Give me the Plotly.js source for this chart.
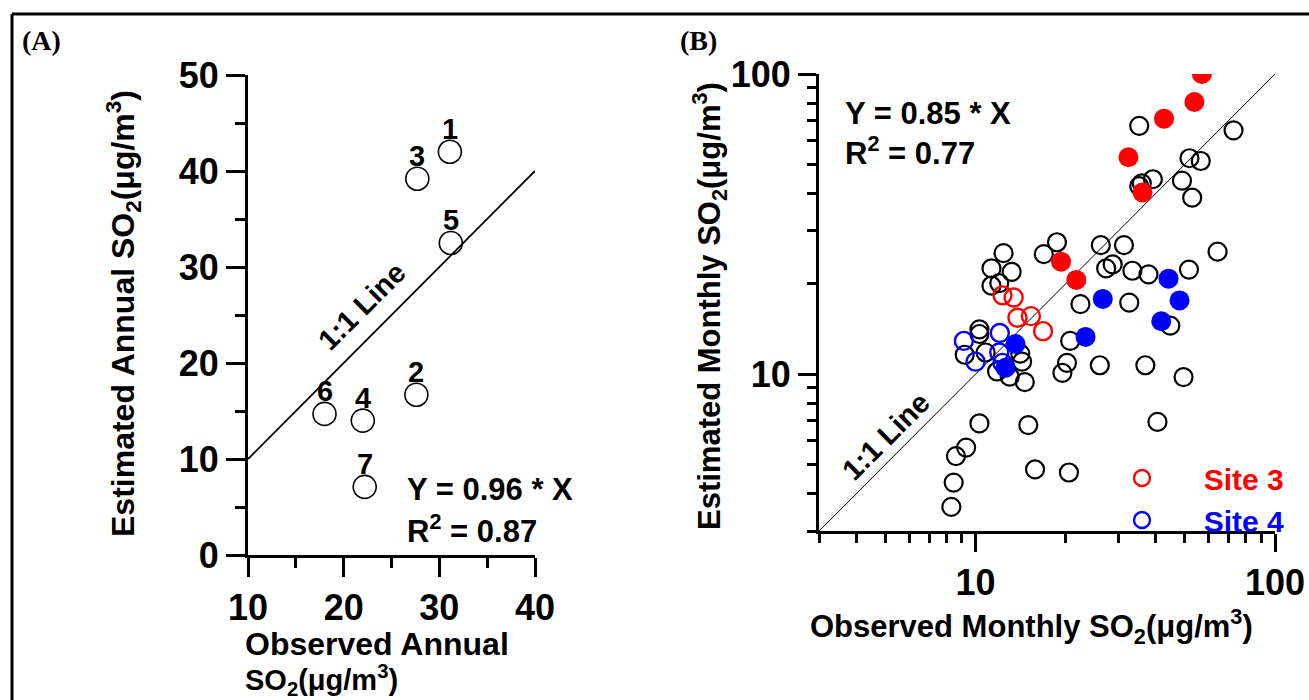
<!DOCTYPE html>
<html>
<head>
<meta charset="utf-8">
<script src="https://cdn.plot.ly/plotly-3.0.1.min.js"></script>
<style>html,body{margin:0;padding:0;background:#fff;}</style>
</head>
<body>
<div id="chart" style="width:1309px;height:700px;"></div>
<script>
// ---------- Panel A : annual ----------
const siteLabels = ['1','2','3','4','5','6','7'];
const obsAnnual  = [31.1, 27.6, 27.7, 22.0, 31.2, 18.0, 22.2];
const estAnnual  = [42.0, 16.7, 39.2, 14.0, 32.5, 14.7, 7.1];
const oneToOneA  = [10, 40];
const xTicksA = [10, 20, 30, 40];
const xMinorA = [15, 25, 35];
const yTicksA = [0, 10, 20, 30, 40, 50];
const yMinorA = [5, 15, 25, 35, 45];

// ---------- Panel B : monthly ----------
const otherObs = [35.2, 72.7, 51.8, 56.5, 35.9, 35.2, 39.1, 48.9, 52.9, 18.7,
                  26.2, 31.3, 16.9, 64.3, 12.4, 11.3, 13.2, 11.3, 12.0, 27.3,
                  28.7, 33.4, 37.8, 51.6, 22.4, 32.6, 44.7, 20.7, 20.2, 19.5,
                  26.0, 36.9, 49.5, 10.3, 10.3, 9.2, 10.8, 14.1, 14.3, 11.8,
                  13.0, 14.6, 10.3, 15.0, 9.3, 8.6, 8.45, 8.3, 15.8, 20.5, 40.5];
const otherEst = [67.2, 64.9, 52.4, 51.3, 43.2, 42.3, 44.6, 44.1, 38.7, 27.5,
                  26.9, 26.9, 25.1, 25.6, 25.3, 22.5, 21.9, 19.7, 20.1, 22.5,
                  23.2, 22.1, 21.5, 22.3, 17.1, 17.3, 14.5, 12.9, 10.9, 10.1,
                  10.7, 10.7, 9.77, 14.1, 13.6, 11.6, 11.8, 11.7, 11.0, 10.2,
                  9.8, 9.4, 6.85, 6.76, 5.69, 5.33, 4.35, 3.61, 4.81, 4.70, 6.93];
const site3OpenObs = [12.3, 13.4, 13.8, 15.3, 16.8];
const site3OpenEst = [18.3, 18.0, 15.4, 15.6, 13.9];
const site4OpenObs = [9.14, 12.05, 10.0, 12.0, 12.3];
const site4OpenEst = [12.9, 13.7, 11.0, 11.8, 10.9];
const site3FillObs = [57.0, 53.8, 42.6, 32.4, 36.1, 19.3, 21.7];
const site3FillEst = [100, 80.7, 71.0, 52.8, 40.3, 23.7, 20.6];
const site4FillObs = [44.1, 48.0, 26.6, 41.7, 23.3, 13.6, 12.6];
const site4FillEst = [20.8, 17.6, 17.8, 15.0, 13.3, 12.6, 10.5];
const oneToOneB = [3, 100];
const logTicks = [10, 100];
const logMinor = [3, 4, 5, 6, 7, 8, 9, 20, 30, 40, 50, 60, 70, 80, 90];

const W = 1309, H = 700;
const px = v => v / W;
const py = v => 1 - v / H;
const FONT = 'Liberation Sans, Arial, Helvetica, sans-serif';
const NB = '\u00a0';

const traces = [
  {x: oneToOneA, y: oneToOneA, xaxis: 'x', yaxis: 'y', mode: 'lines',
   line: {color: '#000', width: 1.8}, showlegend: false, hoverinfo: 'skip'},
  {x: obsAnnual, y: estAnnual, xaxis: 'x', yaxis: 'y', mode: 'markers',
   marker: {symbol: 'circle-open', size: 23, color: '#000', line: {width: 1.6}},
   showlegend: false, cliponaxis: false},
  {x: oneToOneB, y: oneToOneB, xaxis: 'x2', yaxis: 'y2', mode: 'lines',
   line: {color: '#000', width: 1}, showlegend: false, hoverinfo: 'skip'},
  {x: otherObs, y: otherEst, xaxis: 'x2', yaxis: 'y2', mode: 'markers',
   marker: {symbol: 'circle-open', size: 18, color: '#000', line: {width: 2.2}},
   showlegend: false},
  {x: site3OpenObs, y: site3OpenEst, xaxis: 'x2', yaxis: 'y2', mode: 'markers',
   name: '<span style="color:#ff0000">' + NB.repeat(5) + 'Site 3</span>',
   marker: {symbol: 'circle-open', size: 18, color: '#ff0000', line: {width: 2.4}}},
  {x: site4OpenObs, y: site4OpenEst, xaxis: 'x2', yaxis: 'y2', mode: 'markers',
   name: '<span style="color:#0000ff">' + NB.repeat(5) + 'Site 4</span>',
   marker: {symbol: 'circle-open', size: 18, color: '#0000ff', line: {width: 2.4}}},
  {x: site3FillObs, y: site3FillEst, xaxis: 'x2', yaxis: 'y2', mode: 'markers',
   marker: {symbol: 'circle', size: 20, color: '#ff0000'}, showlegend: false},
  {x: site4FillObs, y: site4FillEst, xaxis: 'x2', yaxis: 'y2', mode: 'markers',
   marker: {symbol: 'circle', size: 20, color: '#0000ff'}, showlegend: false}
];

function linAxis(domain, range, tickvals, minorvals, anchor) {
  return {domain: domain, range: range, anchor: anchor, showline: true, linewidth: 3,
    linecolor: '#000', ticks: 'outside', ticklen: 19, tickwidth: 3, tickcolor: '#000',
    tickmode: 'array', tickvals: tickvals, showgrid: false, zeroline: false,
    automargin: false, fixedrange: true,
    tickfont: {family: FONT, size: 36, weight: 'bold', color: '#000'},
    minor: {tickmode: 'array', tickvals: minorvals, ticks: 'outside', ticklen: 10,
            tickwidth: 3, tickcolor: '#000', showgrid: false}};
}
function logAxis(domain, anchor) {
  return {type: 'log', domain: domain, range: [Math.log10(oneToOneB[0]), Math.log10(oneToOneB[1])],
    anchor: anchor, showline: true, linewidth: 3, linecolor: '#000', ticks: 'outside',
    ticklen: 18, tickwidth: 3, tickcolor: '#000', tickmode: 'array', tickvals: logTicks,
    ticktext: logTicks.map(String), showgrid: false, zeroline: false, automargin: false,
    fixedrange: true, tickfont: {family: FONT, size: 36, weight: 'bold', color: '#000'},
    minor: {tickmode: 'array', tickvals: logMinor, ticks: 'outside', ticklen: 9,
            tickwidth: 3, tickcolor: '#000', showgrid: false}};
}

const bold = (s, size, extra) => Object.assign({text: s, showarrow: false, xref: 'paper', yref: 'paper',
  font: {family: FONT, size: size, weight: 'bold', color: '#000'}}, extra);

// site number labels, placed on the data points and lifted above each circle
const siteAnnots = siteLabels.map((lab, i) => ({
  text: lab, x: obsAnnual[i], y: estAnnual[i], xref: 'x', yref: 'y', showarrow: false,
  yshift: 23, xanchor: 'center', yanchor: 'middle',
  font: {family: FONT, size: 29, weight: 'bold', color: '#000'}}));

const layout = {
  width: W, height: H, margin: {l: 0, r: 0, t: 0, b: 0},
  paper_bgcolor: '#fff', plot_bgcolor: 'rgba(0,0,0,0)',
  font: {family: FONT, color: '#000'},
  showlegend: true,
  legend: {x: px(1122), y: py(452), xanchor: 'left', yanchor: 'top', bgcolor: 'rgba(0,0,0,0)',
           font: {family: FONT, size: 30, weight: 'bold'}, tracegroupgap: 0, itemwidth: 30},
  xaxis: linAxis([px(248), px(535)], [10, 40], xTicksA, xMinorA, 'y'),
  yaxis: linAxis([py(555), py(75)], [0, 50], yTicksA, yMinorA, 'x'),
  xaxis2: logAxis([px(819), px(1275)], 'y2'),
  yaxis2: logAxis([py(531), py(74)], 'x2'),
  shapes: [
    {type: 'line', xref: 'paper', yref: 'paper', x0: px(12), x1: 1, y0: py(14), y1: py(14),
     line: {color: '#000', width: 3}},
    {type: 'line', xref: 'paper', yref: 'paper', x0: px(12), x1: px(12), y0: py(14), y1: 0,
     line: {color: '#000', width: 3}}
  ],
  annotations: siteAnnots.concat([
    {text: '<b>(A)</b>', showarrow: false, xref: 'paper', yref: 'paper', x: px(20), y: py(40),
     xanchor: 'left', yanchor: 'middle', font: {family: 'Liberation Serif, Times New Roman, serif', size: 28, color: '#000'}},
    {text: '<b>(B)</b>', showarrow: false, xref: 'paper', yref: 'paper', x: px(678), y: py(40),
     xanchor: 'left', yanchor: 'middle', font: {family: 'Liberation Serif, Times New Roman, serif', size: 28, color: '#000'}},
    bold('Y = 0.96 * X', 31, {x: px(405), y: py(489), xanchor: 'left', yanchor: 'middle'}),
    bold('R<sup>2</sup> = 0.87', 31, {x: px(405), y: py(529), xanchor: 'left', yanchor: 'middle'}),
    bold('1:1 Line', 29, {x: px(362), y: py(306), xanchor: 'center', yanchor: 'middle', textangle: -45}),
    bold('Observed Annual', 32, {x: px(243), y: py(644), xanchor: 'left', yanchor: 'middle'}),
    bold('SO<sub>2</sub>(\u03bcg/m<sup>3</sup>)', 29, {x: px(243), y: py(680), xanchor: 'left', yanchor: 'middle'}),
    bold('Estimated Annual SO<sub>2</sub>(\u03bcg/m<sup>3</sup>)', 32, {x: px(124), y: py(313), xanchor: 'center', yanchor: 'middle', textangle: -90}),
    bold('Y = 0.85 * X', 31, {x: px(843), y: py(114), xanchor: 'left', yanchor: 'middle'}),
    bold('R<sup>2</sup> = 0.77', 31, {x: px(843), y: py(151), xanchor: 'left', yanchor: 'middle'}),
    bold('1:1 Line', 29, {x: px(886), y: py(436), xanchor: 'center', yanchor: 'middle', textangle: -45}),
    bold('Observed Monthly SO<sub>2</sub>(\u03bcg/m<sup>3</sup>)', 31, {x: px(1031), y: py(626), xanchor: 'center', yanchor: 'middle'}),
    bold('Estimated Monthly SO<sub>2</sub>(\u03bcg/m<sup>3</sup>)', 31, {x: px(709), y: py(306), xanchor: 'center', yanchor: 'middle', textangle: -90})
  ])
};

Plotly.newPlot('chart', traces, layout, {staticPlot: true, displayModeBar: false});
</script>
</body>
</html>
